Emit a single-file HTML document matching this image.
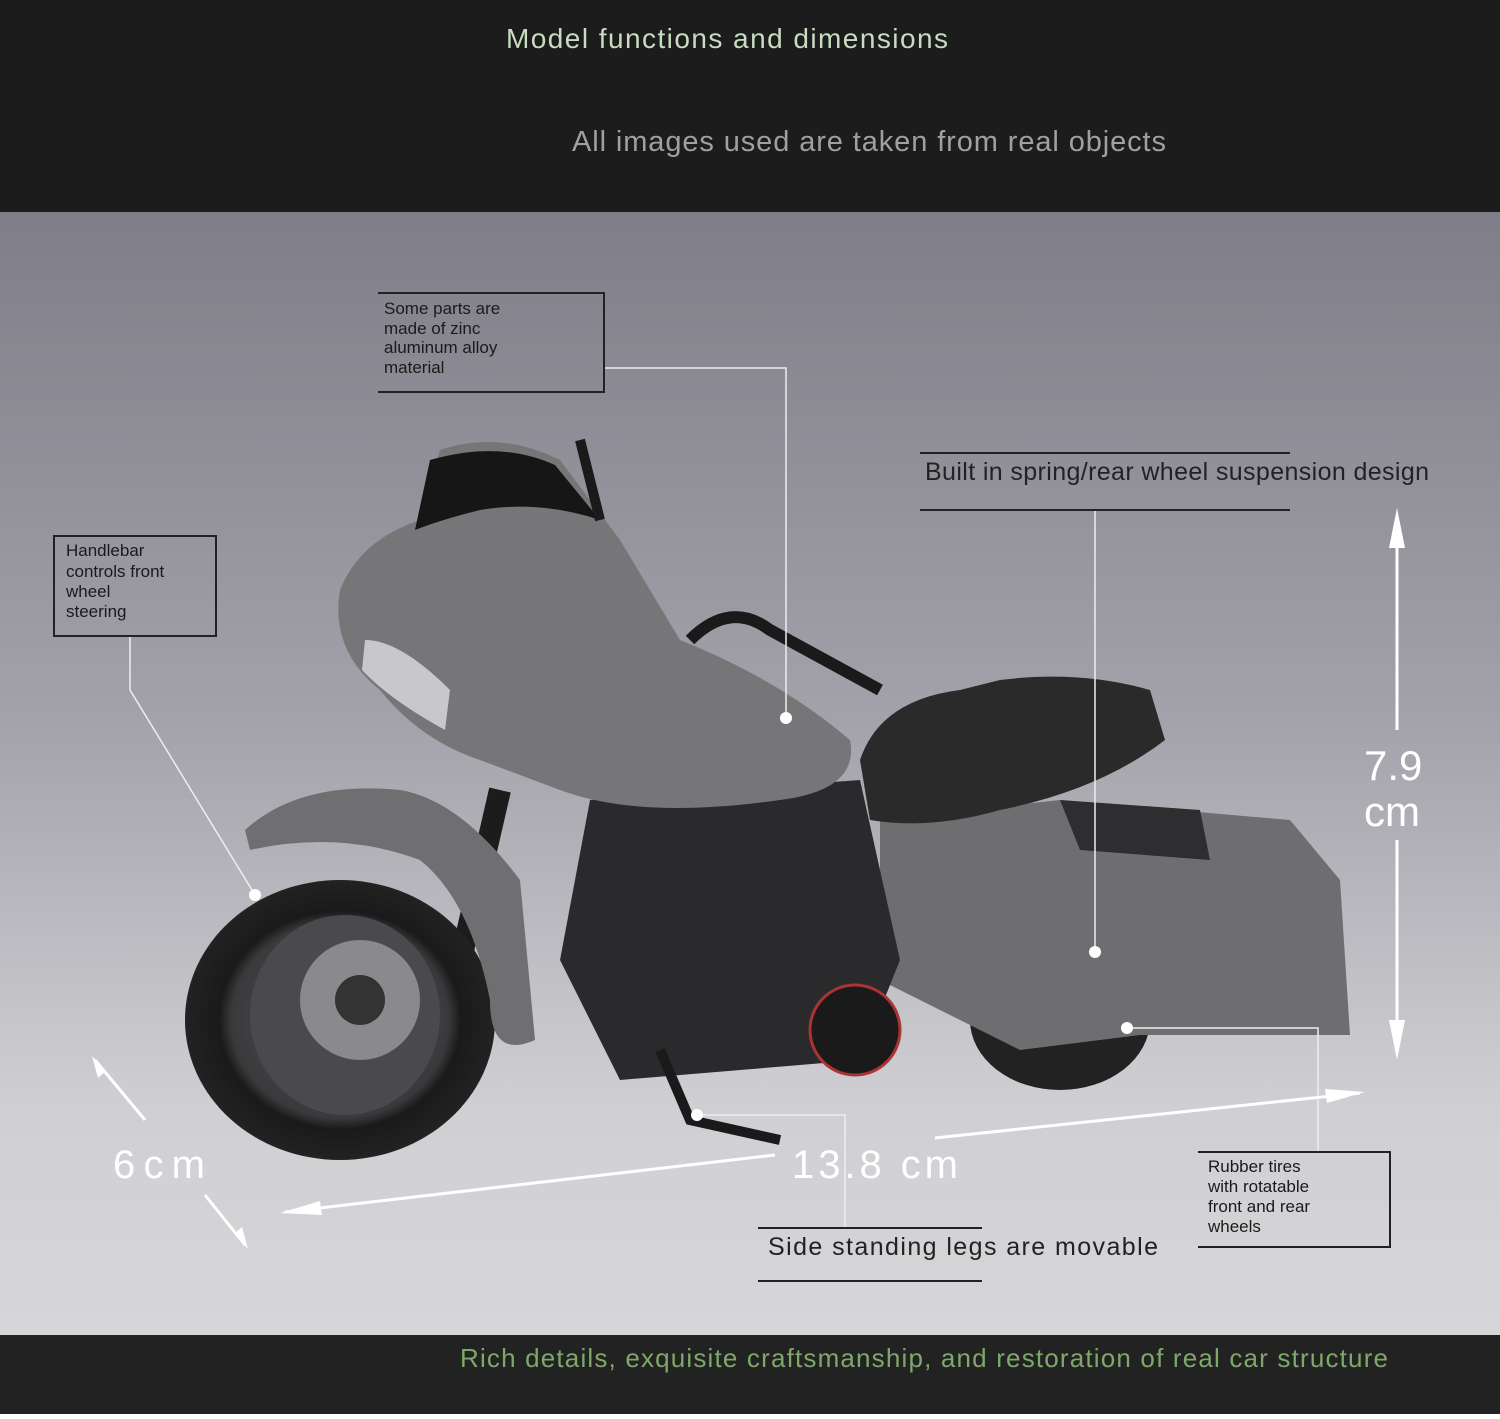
<!DOCTYPE html>
<html><head><style>
body{margin:0;width:1500px;height:1414px;overflow:hidden;font-family:"Liberation Sans",sans-serif;}
</style></head><body>
<svg width="1500" height="1414" viewBox="0 0 1500 1414" xmlns="http://www.w3.org/2000/svg" font-family="Liberation Sans, sans-serif">
<defs>
<linearGradient id="bg" x1="0" y1="0" x2="0" y2="1">
<stop offset="0" stop-color="#7f7e88"/><stop offset="0.45" stop-color="#a3a2aa"/><stop offset="0.8" stop-color="#d0d0d4"/><stop offset="1" stop-color="#d6d6d9"/>
</linearGradient>
<radialGradient id="wh" cx="0.5" cy="0.5" r="0.5"><stop offset="0" stop-color="#555"/><stop offset="0.7" stop-color="#3a3a3c"/><stop offset="0.78" stop-color="#1a1a1a"/><stop offset="1" stop-color="#222"/></radialGradient>
</defs>
<rect width="1500" height="212" fill="#1c1c1c"/>
<rect y="212" width="1500" height="1124" fill="url(#bg)"/>
<rect y="1335" width="1500" height="79" fill="#222"/>
<text x="506" y="48" font-size="28" fill="#c7dcc0" textLength="442">Model functions and dimensions</text>
<text x="572" y="151" font-size="29" fill="#a0a0a0" textLength="594">All images used are taken from real objects</text>
<text x="460" y="1367" font-size="26" fill="#7ea86a" textLength="928">Rich details, exquisite craftsmanship, and restoration of real car structure</text>

<ellipse cx="1060" cy="1020" rx="90" ry="70" fill="#222"/>
<path d="M880 820 L1060 800 L1290 820 L1340 880 L1350 1035 L1140 1035 L1020 1050 L880 980 Z" fill="#6e6e71"/>
<path d="M1060 800 L1200 810 L1210 860 L1080 850 Z" fill="#2e2e30"/>
<path d="M860 760 Q880 700 960 690 L1000 680 Q1080 670 1150 690 L1165 740 Q1100 790 1000 810 Q930 830 870 820 Z" fill="#2a2a2b"/>
<path d="M590 800 L860 780 L900 960 L860 1060 L620 1080 L560 960 Z" fill="#2a2a2c"/>
<circle cx="855" cy="1030" r="45" fill="#1a1a1a" stroke="#a33" stroke-width="3"/>
<path d="M340 590 Q360 540 420 520 L440 450 Q500 430 560 460 L620 540 L680 640 Q780 680 850 740 Q860 790 780 800 Q640 820 560 790 L480 760 Q420 740 380 690 Q330 650 340 590 Z" fill="#767678"/>
<path d="M430 460 Q500 440 555 465 L600 520 Q540 500 480 510 Q440 520 415 530 Z" fill="#161616"/>
<path d="M365 640 Q400 640 450 690 L445 730 Q390 700 362 670 Z" fill="#c8c8cc"/>
<path d="M690 640 Q730 600 770 630 L880 690" stroke="#1a1a1a" stroke-width="12" fill="none"/>
<path d="M580 440 L600 520" stroke="#1a1a1a" stroke-width="10"/>
<path d="M500 790 L440 1050" stroke="#1c1c1c" stroke-width="22"/>
<ellipse cx="340" cy="1020" rx="155" ry="140" fill="url(#wh)"/>
<ellipse cx="345" cy="1015" rx="95" ry="100" fill="#4a4a4e"/>
<circle cx="360" cy="1000" r="60" fill="#8a8a8e"/>
<circle cx="360" cy="1000" r="25" fill="#333"/>
<path d="M245 830 Q300 780 400 790 Q460 800 520 880 L535 1040 Q490 1060 490 1000 Q470 900 420 860 Q340 830 250 850 Z" fill="#6f6f72"/>
<path d="M660 1050 L690 1120 L780 1140" stroke="#1a1a1a" stroke-width="10" fill="none"/>

<g stroke="#eee" stroke-width="1.5" fill="none">
<path d="M605 368 H786 V718"/>
<path d="M130 636 V690 L255 895"/>
<path d="M1095 510 V950"/>
<path d="M697 1115 H845 V1228"/>
<path d="M1127 1028 H1318 V1152"/>
</g>
<g fill="#fff"><circle cx="786" cy="718" r="6"/><circle cx="255" cy="895" r="6"/><circle cx="1095" cy="952" r="6"/><circle cx="697" cy="1115" r="6"/><circle cx="1127" cy="1028" r="6"/></g>
<g stroke="#222" stroke-width="2" fill="none">
<path d="M378 293 H604 V392 H378"/>
<path d="M54 536 H216 V636 H54 Z"/>
<path d="M920 453 H1290 M920 510 H1290"/>
<path d="M758 1228 H982 M758 1281 H982"/>
<path d="M1198 1152 H1390 V1247 H1198"/>
</g>
<g font-size="17" fill="#1a1a1a">
<text x="384" y="314">Some parts are</text><text x="384" y="334">made of zinc</text><text x="384" y="353">aluminum alloy</text><text x="384" y="373">material</text>
<text x="66" y="556">Handlebar</text><text x="66" y="577">controls front</text><text x="66" y="597">wheel</text><text x="66" y="617">steering</text>
<text x="1208" y="1172">Rubber tires</text><text x="1208" y="1192">with rotatable</text><text x="1208" y="1212">front and rear</text><text x="1208" y="1232">wheels</text>
</g>
<text x="925" y="480" font-size="25" fill="#222" textLength="504">Built in spring/rear wheel suspension design</text>
<text x="768" y="1255" font-size="25" fill="#222" textLength="390">Side standing legs are movable</text>

<g stroke="#fff" stroke-width="3" fill="#fff">
<path d="M1397 520 V730 M1397 840 V1050"/>
<path d="M1397 508 l-8 40 h16 Z M1397 1060 l-8 -40 h16 Z" stroke="none"/>
<path d="M285 1212 L775 1155 M935 1138 L1360 1093"/>
<path d="M280 1213 l40 -12 l2 14 Z M1365 1092 l-40 -3 l2 14 Z" stroke="none"/>
<path d="M95 1060 L145 1120 M205 1195 L245 1245"/>
<path d="M92 1056 l6 22 l8 -7 Z M248 1249 l-6 -22 l-8 7 Z" stroke="none"/>
</g>
<text x="1364" y="780" font-size="42" fill="#fff">7.9</text>
<text x="1364" y="826" font-size="42" fill="#fff">cm</text>
<text x="113" y="1178" font-size="40" fill="#fff" textLength="92">6cm</text>
<text x="792" y="1178" font-size="40" fill="#fff" textLength="166">13.8 cm</text>
</svg>
</body></html>
